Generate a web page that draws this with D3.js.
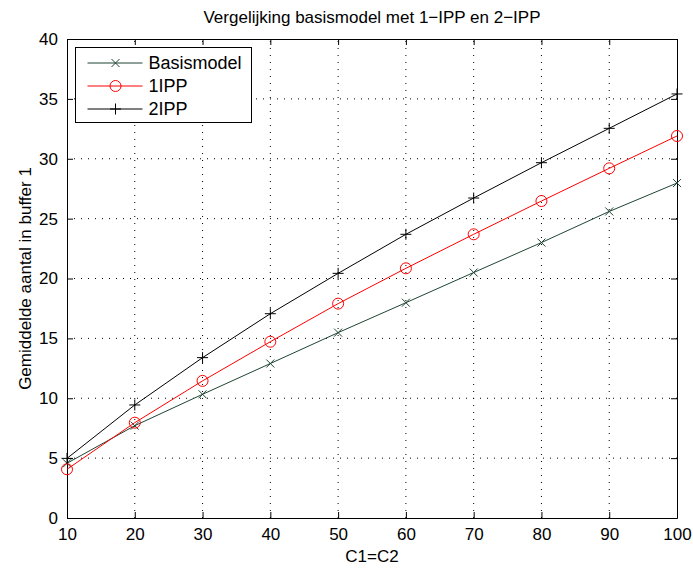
<!DOCTYPE html>
<html lang="en">
<head>
  <meta charset="UTF-8">
  <title>Vergelijking basismodel</title>
  <style>
    * { margin: 0; }
    body { background: #fff; font-family: "Liberation Sans", Arial, Helvetica, sans-serif; }
    text { fill: #000; }
  </style>
</head>
<body>
  <div id="chart"></div>
  <script src="https://cdnjs.cloudflare.com/ajax/libs/d3/7.8.5/d3.min.js"></script>
  <script>
    const xValues = [10, 20, 30, 40, 50, 60, 70, 80, 90, 100];
    const basismodel = [4.57, 7.71, 10.33, 12.9, 15.48, 17.98, 20.5, 23.0, 25.6, 27.97];
    const ipp1 = [4.07, 7.96, 11.45, 14.72, 17.9, 20.85, 23.69, 26.47, 29.2, 31.9];
    const ipp2 = [4.98, 9.44, 13.39, 17.06, 20.43, 23.69, 26.72, 29.67, 32.54, 35.41];
    const xTicks = [10, 20, 30, 40, 50, 60, 70, 80, 90, 100];
    const yTicks = [0, 5, 10, 15, 20, 25, 30, 35, 40];

    const series = [
      { name: 'Basismodel', values: basismodel, color: '#1f4533', marker: 'x' },
      { name: '1IPP', values: ipp1, color: '#ff0000', marker: 'o' },
      { name: '2IPP', values: ipp2, color: '#000000', marker: '+' }
    ];

    const width = 693, height = 568;
    const margin = { left: 67, right: 16, top: 39, bottom: 50 };

    const svg = d3.select('#chart').append('svg')
      .attr('width', width)
      .attr('height', height);

    const x = d3.scaleLinear().domain([10, 100]).range([margin.left, width - margin.right]);
    const y = d3.scaleLinear().domain([0, 40]).range([height - margin.bottom, margin.top]);

    // grid
    const grid = svg.append('g');
    grid.selectAll('.gx').data(xTicks.slice(1, -1)).enter().append('line')
      .attr('x1', d => x(d)).attr('x2', d => x(d))
      .attr('y1', y(0)).attr('y2', y(40))
      .attr('stroke', '#000').attr('stroke-width', 1)
      .attr('stroke-dasharray', '1,6');
    grid.selectAll('.gy').data(yTicks.slice(1, -1)).enter().append('line')
      .attr('y1', d => y(d)).attr('y2', d => y(d))
      .attr('x1', x(10)).attr('x2', x(100))
      .attr('stroke', '#000').attr('stroke-width', 1)
      .attr('stroke-dasharray', '1,6');

    // axes, MATLAB style inward ticks
    const fontSize = '17px';
    const axBottom = svg.append('g')
      .attr('transform', `translate(0,${y(0)})`)
      .call(d3.axisBottom(x).tickValues(xTicks).tickSize(-6).tickPadding(10).tickSizeOuter(0));
    const axTop = svg.append('g')
      .attr('transform', `translate(0,${y(40)})`)
      .call(d3.axisTop(x).tickValues(xTicks).tickSize(-6).tickFormat('').tickSizeOuter(0));
    const axLeft = svg.append('g')
      .attr('transform', `translate(${x(10)},0)`)
      .call(d3.axisLeft(y).tickValues(yTicks).tickSize(-6).tickPadding(9).tickSizeOuter(0));
    const axRight = svg.append('g')
      .attr('transform', `translate(${x(100)},0)`)
      .call(d3.axisRight(y).tickValues(yTicks).tickSize(-6).tickFormat('').tickSizeOuter(0));

    [axBottom, axTop, axLeft, axRight].forEach(g => {
      g.select('.domain').attr('stroke', '#000');
      g.selectAll('.tick line').attr('stroke', '#000');
      g.selectAll('text')
        .style('font-family', '"Liberation Sans", Arial, sans-serif')
        .style('font-size', fontSize)
        .attr('fill', '#000');
    });
    axBottom.selectAll('text').attr('dy', '0.71em');

    // lines and markers
    const line = d3.line()
      .x((d, i) => x(xValues[i]))
      .y(d => y(d));

    function drawMarker(g, type, cx, cy, color) {
      if (type === 'x') {
        const s = 4;
        g.append('path')
          .attr('d', `M${cx - s},${cy - s}L${cx + s},${cy + s}M${cx - s},${cy + s}L${cx + s},${cy - s}`)
          .attr('stroke', color).attr('stroke-width', 1).attr('fill', 'none');
      } else if (type === 'o') {
        g.append('circle')
          .attr('cx', cx).attr('cy', cy).attr('r', 5.5)
          .attr('stroke', color).attr('stroke-width', 1).attr('fill', 'none');
      } else {
        const s = 5.5;
        g.append('path')
          .attr('d', `M${cx - s},${cy}L${cx + s},${cy}M${cx},${cy - s}L${cx},${cy + s}`)
          .attr('stroke', color).attr('stroke-width', 1).attr('fill', 'none');
      }
    }

    series.forEach(s => {
      svg.append('path')
        .datum(s.values)
        .attr('d', line)
        .attr('fill', 'none')
        .attr('stroke', s.color)
        .attr('stroke-width', 1);
      const mg = svg.append('g');
      s.values.forEach((v, i) => drawMarker(mg, s.marker, x(xValues[i]), y(v), s.color));
    });

    // legend
    const legend = svg.append('g').attr('transform', 'translate(75.5,47.5)');
    legend.append('rect')
      .attr('width', 176).attr('height', 75)
      .attr('fill', '#fff').attr('stroke', '#000').attr('stroke-width', 1);
    series.forEach((s, i) => {
      const ly = 15.5 + i * 23;
      legend.append('line')
        .attr('x1', 12).attr('x2', 67)
        .attr('y1', ly).attr('y2', ly)
        .attr('stroke', s.color).attr('stroke-width', 1);
      drawMarker(legend, s.marker, 40, ly, s.color);
      legend.append('text')
        .attr('x', 73).attr('y', ly)
        .attr('dy', '0.36em')
        .style('font-size', '18px')
        .text(s.name);
    });

    // title and labels
    svg.append('text')
      .attr('x', (x(10) + x(100)) / 2).attr('y', 23)
      .attr('text-anchor', 'middle')
      .style('font-size', '17px')
      .text('Vergelijking basismodel met 1\u2212IPP en 2\u2212IPP');

    svg.append('text')
      .attr('x', (x(10) + x(100)) / 2).attr('y', 562)
      .attr('text-anchor', 'middle')
      .style('font-size', '17px')
      .text('C1=C2');

    svg.append('text')
      .attr('transform', `translate(31,${(y(0) + y(40)) / 2}) rotate(-90)`)
      .attr('text-anchor', 'middle')
      .style('font-size', '17px')
      .text('Gemiddelde aantal in buffer 1');
  </script>
</body>
</html>
